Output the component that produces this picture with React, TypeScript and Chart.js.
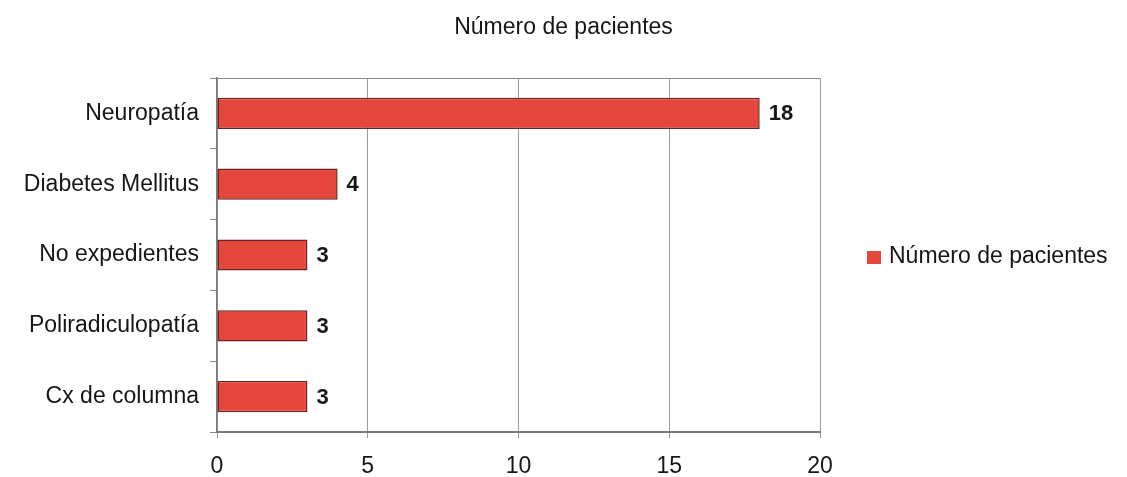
import { useEffect, useRef } from "react";
import { Chart, registerables } from "chart.js";

Chart.register(...registerables);

// Chart content
const chartTitle = "Número de pacientes";
const seriesName = "Número de pacientes";
const categories = [
  "Neuropatía",
  "Diabetes Mellitus",
  "No expedientes",
  "Poliradiculopatía",
  "Cx de columna",
];
const pacientes = [18, 4, 3, 3, 3];
const xTickValues = [0, 5, 10, 15, 20];

const FONT = "'Liberation Sans', Arial, sans-serif";
const FONT_SIZE = 23;
const BAR_FILL = "#E5473D";
const BAR_EDGE = "#6E2222";
const TEXT = "#161616";

// Title, plot frame, value labels and legend drawn onto the canvas
const decorations = {
  id: "decorations",
  beforeDatasetsDraw(chart: any) {
    const { ctx, chartArea } = chart;
    ctx.save();
    ctx.strokeStyle = "#8a8a8a";
    ctx.lineWidth = 1;
    ctx.beginPath();
    ctx.moveTo(chartArea.left, chartArea.top + 0.5);
    ctx.lineTo(chartArea.right, chartArea.top + 0.5);
    ctx.stroke();
    ctx.restore();
  },
  afterDatasetsDraw(chart: any) {
    const { ctx } = chart;
    const meta = chart.getDatasetMeta(0);
    const values = chart.data.datasets[0].data as number[];
    ctx.save();
    ctx.fillStyle = TEXT;
    ctx.font = `bold 22px ${FONT}`;
    ctx.textAlign = "left";
    ctx.textBaseline = "middle";
    meta.data.forEach((bar: any, i: number) => {
      ctx.fillText(String(values[i]), bar.x + 9, bar.y + 1);
    });
    ctx.restore();
  },
  afterDraw(chart: any) {
    const { ctx, width } = chart;
    ctx.save();
    // title
    ctx.fillStyle = TEXT;
    ctx.font = `${FONT_SIZE}px ${FONT}`;
    ctx.textAlign = "center";
    ctx.textBaseline = "middle";
    ctx.fillText(chartTitle, width / 2, 28);
    // legend
    const ds = chart.data.datasets[0];
    ctx.fillStyle = BAR_FILL;
    ctx.fillRect(867, 251, 14, 13);
    ctx.fillStyle = TEXT;
    ctx.textAlign = "left";
    ctx.fillText(ds.label, 889, 257);
    ctx.restore();
  },
};

export default function App() {
  const canvasRef = useRef<HTMLCanvasElement | null>(null);

  useEffect(() => {
    document.body.style.margin = "0";
    const canvas = canvasRef.current;
    if (!canvas) return;
    const chart = new Chart(canvas, {
      type: "bar",
      data: {
        labels: categories,
        datasets: [
          {
            label: seriesName,
            data: pacientes,
            backgroundColor: BAR_FILL,
            borderColor: BAR_EDGE,
            borderWidth: 1.5,
            borderSkipped: false,
            barPercentage: 0.44,
            categoryPercentage: 1,
          },
        ],
      },
      options: {
        indexAxis: "y",
        animation: false,
        responsive: false,
        maintainAspectRatio: false,
        layout: { padding: { top: 78, right: 307, bottom: 0, left: 0 } },
        plugins: {
          legend: { display: false },
          title: { display: false },
          tooltip: { enabled: false },
        },
        scales: {
          x: {
            type: "linear",
            min: 0,
            max: 20,
            afterBuildTicks(scale: any) {
              scale.ticks = xTickValues.map((v) => ({ value: v }));
            },
            afterFit(scale: any) {
              scale.height = 45;
            },
            ticks: {
              color: TEXT,
              font: { family: FONT, size: FONT_SIZE },
              padding: 15,
              maxRotation: 0,
            },
            grid: {
              color: "#9a9a9a",
              lineWidth: 1,
              tickLength: 6,
              drawOnChartArea: true,
            },
            border: { display: true, color: "#7a7a7a", width: 2 },
          },
          y: {
            type: "category",
            afterFit(scale: any) {
              scale.width = 217;
            },
            ticks: {
              color: TEXT,
              font: { family: FONT, size: FONT_SIZE },
              padding: 11,
            },
            grid: {
              offset: true,
              drawOnChartArea: false,
              drawTicks: true,
              tickLength: 7,
              color: "#8a8a8a",
            },
            border: { display: true, color: "#7a7a7a", width: 1.5 },
          },
        },
      },
      plugins: [decorations],
    });
    return () => chart.destroy();
  }, []);

  return (
    <div style={{ width: 1127, height: 477 }}>
      <canvas ref={canvasRef} width={1127} height={477} style={{ display: "block" }} />
    </div>
  );
}
